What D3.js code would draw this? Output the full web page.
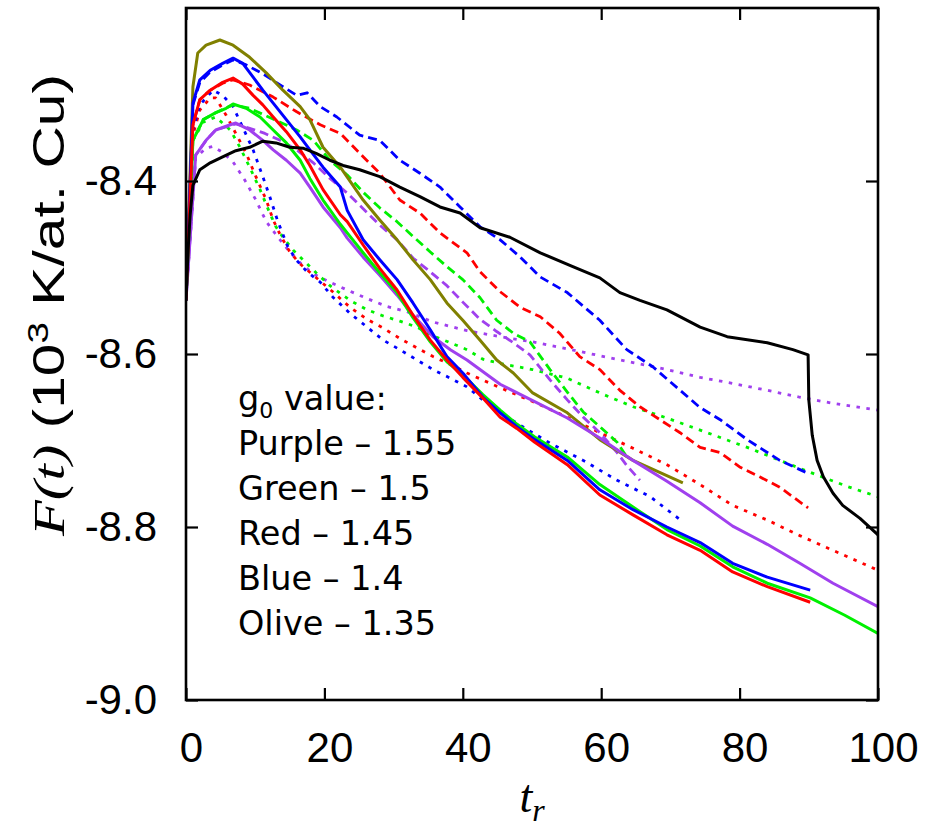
<!DOCTYPE html>
<html>
<head>
<meta charset="utf-8">
<script src="https://cdn.jsdelivr.net/npm/d3@7"></script>
<style>
  html, body { margin: 0; padding: 0; background: #fff; }
  svg { display: block; }
</style>
</head>
<body>
<div id="chart"></div>
<script>
// F(t) vs t_r [t, F]
const purpleSolid = [[0,-8.538],[1.4,-8.370],[2.9,-8.353],[4.3,-8.341],[6.4,-8.335],[7.2,-8.333],[9.2,-8.341],[11.1,-8.353],[12.6,-8.364],[14.5,-8.376],[16.5,-8.391],[17.9,-8.407],[19.8,-8.430],[22.3,-8.454],[23.3,-8.466],[25.6,-8.488],[28.0,-8.509],[30.5,-8.532],[32.8,-8.555],[35.7,-8.580],[38.2,-8.595],[40.6,-8.607],[45.4,-8.635],[50.1,-8.654],[55.1,-8.674],[59.8,-8.697],[64.6,-8.723],[69.5,-8.747],[74.3,-8.772],[79.0,-8.799],[84.0,-8.820],[88.7,-8.842],[93.5,-8.865],[100,-8.892]];
const greenSolid = [[0,-8.538],[1.0,-8.353],[2.5,-8.329],[4.3,-8.321],[5.8,-8.316],[6.8,-8.311],[8.7,-8.316],[10.7,-8.326],[12.6,-8.341],[14.5,-8.356],[16.5,-8.376],[17.9,-8.397],[19.8,-8.422],[22.3,-8.450],[23.3,-8.460],[25.6,-8.483],[28.0,-8.506],[30.5,-8.529],[32.8,-8.558],[35.3,-8.586],[37.7,-8.609],[40.0,-8.624],[42.9,-8.647],[45.4,-8.665],[47.8,-8.681],[50.4,-8.696],[55.1,-8.719],[59.8,-8.751],[64.6,-8.777],[69.5,-8.803],[74.3,-8.822],[79.0,-8.846],[84.0,-8.865],[90.2,-8.882],[95.2,-8.902],[100,-8.923]];
const redSolid = [[0,-8.538],[1.0,-8.335],[2.0,-8.306],[3.5,-8.295],[5.3,-8.286],[6.8,-8.281],[8.2,-8.288],[9.7,-8.301],[11.1,-8.312],[12.6,-8.326],[14.5,-8.343],[16.5,-8.364],[17.9,-8.382],[19.8,-8.410],[22.3,-8.439],[23.3,-8.447],[25.6,-8.474],[28.0,-8.501],[30.5,-8.526],[32.8,-8.555],[35.3,-8.584],[37.7,-8.607],[40.0,-8.627],[42.9,-8.651],[45.4,-8.673],[47.8,-8.686],[50.4,-8.702],[55.1,-8.728],[59.8,-8.763],[64.6,-8.786],[69.5,-8.809],[74.3,-8.827],[79.0,-8.852],[84.0,-8.869],[90.2,-8.887]];
const blueSolid = [[0,-8.538],[1.0,-8.310],[2.0,-8.283],[3.5,-8.272],[5.3,-8.264],[6.8,-8.258],[8.2,-8.264],[9.7,-8.280],[11.1,-8.295],[12.6,-8.310],[14.5,-8.329],[16.5,-8.349],[17.9,-8.364],[19.8,-8.384],[22.3,-8.407],[23.3,-8.434],[25.6,-8.468],[28.0,-8.491],[30.5,-8.514],[32.8,-8.541],[35.3,-8.572],[37.7,-8.603],[40.0,-8.622],[42.9,-8.650],[45.4,-8.668],[47.8,-8.684],[50.4,-8.699],[55.1,-8.723],[59.8,-8.757],[64.6,-8.780],[69.5,-8.800],[74.3,-8.818],[79.0,-8.842],[84.0,-8.858],[90.2,-8.873]];
const oliveSolid = [[0,-8.534],[1.0,-8.291],[1.7,-8.252],[2.9,-8.243],[4.9,-8.237],[6.8,-8.243],[9.2,-8.257],[11.6,-8.275],[14.0,-8.295],[16.5,-8.314],[17.9,-8.329],[19.8,-8.361],[22.3,-8.384],[25.6,-8.422],[28.0,-8.445],[30.5,-8.468],[32.8,-8.491],[35.3,-8.514],[37.7,-8.541],[40.0,-8.561],[42.5,-8.584],[44.9,-8.607],[47.3,-8.622],[50.1,-8.645],[55.1,-8.668],[59.8,-8.699],[64.6,-8.723],[71.8,-8.749]];
const blackSolid = [[0,-8.538],[0.3,-8.480],[0.6,-8.439],[1.0,-8.405],[2.0,-8.387],[3.5,-8.379],[5.3,-8.372],[7.2,-8.365],[9.2,-8.361],[11.1,-8.354],[13.0,-8.356],[15.0,-8.361],[16.9,-8.362],[18.8,-8.368],[20.8,-8.376],[22.7,-8.382],[25.1,-8.387],[28.0,-8.395],[30.9,-8.407],[33.8,-8.418],[36.7,-8.430],[39.6,-8.437],[42.5,-8.454],[46.8,-8.465],[51.2,-8.483],[55.9,-8.499],[59.8,-8.512],[62.7,-8.529],[65.6,-8.538],[69.5,-8.549],[74.3,-8.569],[78.2,-8.580],[84.0,-8.587],[87.7,-8.595],[89.9,-8.601],[90.0,-8.653],[90.5,-8.694],[91.2,-8.723],[92.1,-8.742],[93.5,-8.761],[94.9,-8.775],[97.4,-8.790],[100,-8.809]];

const purpleDashed = [[0,-8.538],[1.4,-8.370],[2.9,-8.353],[4.3,-8.341],[7.2,-8.334],[9.2,-8.339],[11.4,-8.345],[13.6,-8.353],[16.0,-8.364],[18.4,-8.379],[20.8,-8.397],[23.3,-8.414],[25.6,-8.432],[28.0,-8.451],[30.5,-8.468],[32.8,-8.489],[35.3,-8.505],[37.7,-8.521],[40.0,-8.540],[42.5,-8.560],[44.9,-8.574],[47.3,-8.587],[49.7,-8.601],[52.6,-8.630],[55.1,-8.653],[57.4,-8.673],[59.8,-8.691],[62.3,-8.714],[63.7,-8.729],[65.6,-8.746]];
const greenDashed = [[0,-8.538],[1.0,-8.353],[2.5,-8.329],[4.3,-8.321],[6.8,-8.312],[9.2,-8.316],[11.4,-8.324],[13.6,-8.332],[16.0,-8.341],[18.4,-8.353],[20.8,-8.376],[23.3,-8.393],[25.6,-8.413],[28.0,-8.431],[30.5,-8.447],[32.8,-8.464],[35.3,-8.482],[37.7,-8.499],[40.0,-8.514],[42.5,-8.535],[44.9,-8.561],[47.3,-8.576],[49.7,-8.586],[52.6,-8.618],[55.1,-8.644],[57.4,-8.667],[59.8,-8.684],[62.3,-8.702],[63.7,-8.719]];
const redDashed = [[0,-8.538],[1.0,-8.335],[2.0,-8.306],[3.5,-8.295],[5.3,-8.287],[6.8,-8.283],[9.2,-8.289],[12.6,-8.303],[16.0,-8.320],[19.4,-8.335],[22.3,-8.345],[25.6,-8.372],[28.0,-8.391],[30.9,-8.422],[33.8,-8.437],[36.7,-8.460],[40.6,-8.483],[42.5,-8.505],[45.4,-8.528],[48.3,-8.546],[51.2,-8.557],[54.0,-8.576],[56.9,-8.603],[59.8,-8.618],[62.7,-8.642],[65.6,-8.661],[68.5,-8.676],[71.4,-8.691],[74.3,-8.708],[77.2,-8.714],[80.1,-8.731],[82.9,-8.742],[85.8,-8.754],[89.9,-8.778]];
const blueDashed = [[0,-8.538],[1.0,-8.312],[2.0,-8.286],[3.5,-8.274],[5.3,-8.266],[6.8,-8.260],[8.5,-8.265],[11.1,-8.276],[13.6,-8.289],[16.0,-8.301],[17.5,-8.298],[19.4,-8.314],[21.8,-8.326],[25.1,-8.347],[28.0,-8.353],[30.9,-8.376],[33.8,-8.391],[36.7,-8.407],[39.6,-8.430],[42.5,-8.453],[45.4,-8.468],[48.3,-8.488],[51.2,-8.511],[55.1,-8.529],[59.8,-8.561],[63.7,-8.595],[67.5,-8.615],[71.4,-8.642],[74.3,-8.662],[77.2,-8.676],[81.1,-8.699],[85.8,-8.723],[89.9,-8.738]];

const purpleDotted = [[0,-8.538],[1.4,-8.373],[2.9,-8.362],[3.9,-8.360],[5.3,-8.367],[6.8,-8.378],[8.5,-8.399],[10.1,-8.422],[11.6,-8.447],[13.2,-8.464],[15.0,-8.482],[16.9,-8.498],[18.8,-8.509],[20.8,-8.517],[23.3,-8.526],[26.2,-8.536],[29.0,-8.545],[31.9,-8.551],[35.7,-8.563],[40.6,-8.573],[45.4,-8.580],[50.1,-8.586],[55.1,-8.594],[59.8,-8.602],[64.6,-8.610],[69.5,-8.618],[74.3,-8.627],[79.0,-8.634],[84.0,-8.642],[88.7,-8.650],[93.5,-8.657],[100,-8.665]];
const greenDotted = [[0,-8.538],[1.0,-8.353],[2.5,-8.332],[4.3,-8.326],[6.4,-8.341],[7.8,-8.361],[9.2,-8.384],[10.7,-8.410],[12.1,-8.437],[13.0,-8.453],[14.0,-8.465],[15.5,-8.480],[16.9,-8.491],[18.8,-8.506],[20.8,-8.521],[23.7,-8.538],[26.2,-8.549],[28.5,-8.556],[30.9,-8.562],[33.4,-8.569],[35.7,-8.579],[38.2,-8.587],[40.6,-8.595],[42.9,-8.606],[45.4,-8.611],[50.1,-8.618],[55.1,-8.628],[59.8,-8.645],[64.6,-8.661],[69.5,-8.674],[74.3,-8.688],[81.1,-8.708],[85.8,-8.723],[90.6,-8.738],[95.5,-8.753],[100,-8.765]];
const redDotted = [[0,-8.538],[1.0,-8.347],[2.0,-8.318],[3.5,-8.304],[4.3,-8.304],[5.8,-8.324],[7.2,-8.345],[8.7,-8.368],[10.1,-8.395],[11.6,-8.422],[12.6,-8.445],[13.6,-8.462],[15.0,-8.482],[16.5,-8.496],[18.4,-8.509],[21.2,-8.528],[23.7,-8.546],[26.2,-8.560],[28.5,-8.570],[30.9,-8.582],[33.4,-8.593],[35.7,-8.603],[38.2,-8.612],[40.6,-8.622],[45.4,-8.639],[50.1,-8.655],[55.1,-8.673],[59.8,-8.691],[64.6,-8.709],[69.5,-8.728],[74.3,-8.751],[79.0,-8.775],[84.0,-8.792],[88.7,-8.810],[93.5,-8.827],[100,-8.850]];
const blueDotted = [[0,-8.538],[1.0,-8.341],[2.0,-8.312],[3.9,-8.295],[5.3,-8.301],[6.8,-8.314],[8.2,-8.338],[9.7,-8.364],[11.1,-8.395],[12.1,-8.418],[13.2,-8.445],[14.6,-8.474],[15.9,-8.491],[17.5,-8.505],[19.4,-8.517],[21.2,-8.534],[23.7,-8.553],[26.2,-8.569],[28.5,-8.584],[30.9,-8.595],[33.4,-8.607],[35.7,-8.618],[38.2,-8.628],[40.6,-8.638],[42.9,-8.653],[45.4,-8.667],[47.8,-8.680],[52.6,-8.703],[57.4,-8.723],[62.3,-8.746],[67.1,-8.765],[71.8,-8.794]];

const T_TICKS = [0, 20, 40, 60, 80, 100];
const F_TICKS = [-9.0, -8.8, -8.6, -8.4];
const LEGEND_ROWS = ['Purple \u2013 1.55', 'Green \u2013 1.5', 'Red \u2013 1.45', 'Blue \u2013 1.4', 'Olive \u2013 1.35'];

const COLORS = { purple: '#a040ee', green: '#00f000', red: '#ff0000', blue: '#0000ff', olive: '#808000', black: '#000000' };
const DASH = { solid: null, dashed: '9,5', dotted: '3.5,6.5' };

// drawing order: dotted, dashed, then solid curves on top
const SERIES = [
  { data: purpleDotted, color: 'purple', style: 'dotted' },
  { data: greenDotted,  color: 'green',  style: 'dotted' },
  { data: redDotted,    color: 'red',    style: 'dotted' },
  { data: blueDotted,   color: 'blue',   style: 'dotted' },
  { data: purpleDashed, color: 'purple', style: 'dashed' },
  { data: greenDashed,  color: 'green',  style: 'dashed' },
  { data: redDashed,    color: 'red',    style: 'dashed' },
  { data: blueDashed,   color: 'blue',   style: 'dashed' },
  { data: oliveSolid,   color: 'olive',  style: 'solid' },
  { data: purpleSolid,  color: 'purple', style: 'solid' },
  { data: greenSolid,   color: 'green',  style: 'solid' },
  { data: blueSolid,    color: 'blue',   style: 'solid' },
  { data: redSolid,     color: 'red',    style: 'solid' },
  { data: blackSolid,   color: 'black',  style: 'solid' },
];

const SANS = 'Liberation Sans, Arial, Helvetica, sans-serif';
const SERIF = 'Liberation Serif, Times New Roman, serif';

const W = 925, H = 839;
const plot = { left: 186, right: 878, top: 8, bottom: 700 };

const svg = d3.select('#chart').append('svg')
  .attr('width', W).attr('height', H);

const x = d3.scaleLinear().domain([0, 100]).range([plot.left, plot.right]);
const y = d3.scaleLinear().domain([-9.0, -8.2]).range([plot.bottom, plot.top]);

svg.append('clipPath').attr('id', 'plot-clip')
  .append('rect')
  .attr('x', plot.left).attr('y', plot.top)
  .attr('width', plot.right - plot.left).attr('height', plot.bottom - plot.top);

const line = d3.line().x(d => x(d[0])).y(d => y(d[1]));

const curves = svg.append('g').attr('clip-path', 'url(#plot-clip)');
SERIES.forEach(s => {
  curves.append('path')
    .datum(s.data)
    .attr('d', line)
    .attr('fill', 'none')
    .attr('stroke', COLORS[s.color])
    .attr('stroke-width', s.style === 'solid' ? 3 : 2.8)
    .attr('stroke-linejoin', 'round')
    .attr('stroke-dasharray', DASH[s.style]);
});

// axes: ticks point inwards on all four sides
const TICK = 12;
const styleAxis = g => {
  g.attr('font-family', SANS).attr('font-size', 42);
  g.select('.domain').remove();
  g.selectAll('.tick line').attr('stroke', '#000').attr('stroke-width', 2.2);
  g.selectAll('text').attr('fill', '#000');
};

svg.append('g')
  .attr('transform', `translate(0,${plot.bottom})`)
  .call(d3.axisBottom(x).tickValues(T_TICKS).tickSizeInner(-TICK).tickSizeOuter(0).tickPadding(32).tickFormat(d => String(d)))
  .call(styleAxis)
  .call(g => g.selectAll('text').attr('x', 5));

svg.append('g')
  .attr('transform', `translate(0,${plot.top})`)
  .call(d3.axisTop(x).tickValues(T_TICKS).tickSizeInner(-TICK).tickSizeOuter(0).tickFormat(''))
  .call(styleAxis);

svg.append('g')
  .attr('transform', `translate(${plot.left},0)`)
  .call(d3.axisLeft(y).tickValues(F_TICKS).tickSizeInner(-TICK).tickSizeOuter(0).tickPadding(29).tickFormat(d => d.toFixed(1)))
  .call(styleAxis);

svg.append('g')
  .attr('transform', `translate(${plot.right},0)`)
  .call(d3.axisRight(y).tickValues(F_TICKS).tickSizeInner(-TICK).tickSizeOuter(0).tickFormat(''))
  .call(styleAxis);

// frame
svg.append('rect')
  .attr('x', plot.left).attr('y', plot.top)
  .attr('width', plot.right - plot.left).attr('height', plot.bottom - plot.top)
  .attr('fill', 'none').attr('stroke', '#000').attr('stroke-width', 2.6);

// y axis title, stretched along its length to the original's extent
const yTitle = svg.append('text')
  .attr('transform', 'translate(64,536) rotate(-90)')
  .attr('x', 0).attr('y', 0)
  .attr('text-anchor', 'start')
  .attr('font-family', SANS)
  .attr('font-size', 44)
  .attr('fill', '#000')
  .attr('textLength', 462)
  .attr('lengthAdjust', 'spacingAndGlyphs');
yTitle.append('tspan').text('F(t)')
  .attr('font-family', SERIF)
  .attr('font-style', 'italic');
yTitle.append('tspan').text('\u00a0(10');
yTitle.append('tspan').text('3').attr('font-size', 29).attr('dy', -16);
yTitle.append('tspan').text('\u00a0K/at.\u00a0Cu)').attr('dy', 16);

// x axis title
const xTitle = svg.append('text')
  .attr('x', 532).attr('y', 812)
  .attr('text-anchor', 'middle')
  .attr('font-family', SERIF)
  .attr('font-style', 'italic')
  .attr('font-size', 46)
  .attr('fill', '#000');
xTitle.append('tspan').text('t');
xTitle.append('tspan').text('r').attr('font-size', 32).attr('dy', 9);

// annotation
const note = svg.append('g')
  .attr('font-family', 'DejaVu Sans, Verdana, Tahoma, sans-serif')
  .attr('font-size', 33.5)
  .attr('fill', '#000');
const head = note.append('text').attr('x', 238).attr('y', 410);
head.append('tspan').text('g');
head.append('tspan').text('0').attr('font-size', 22).attr('dy', 8);
head.append('tspan').text(' value:').attr('dy', -8);
note.selectAll('text.row')
  .data(LEGEND_ROWS)
  .join('text')
  .attr('class', 'row')
  .attr('x', 238)
  .attr('y', (d, i) => 455 + i * 45)
  .text(d => d);
</script>
</body>
</html>
